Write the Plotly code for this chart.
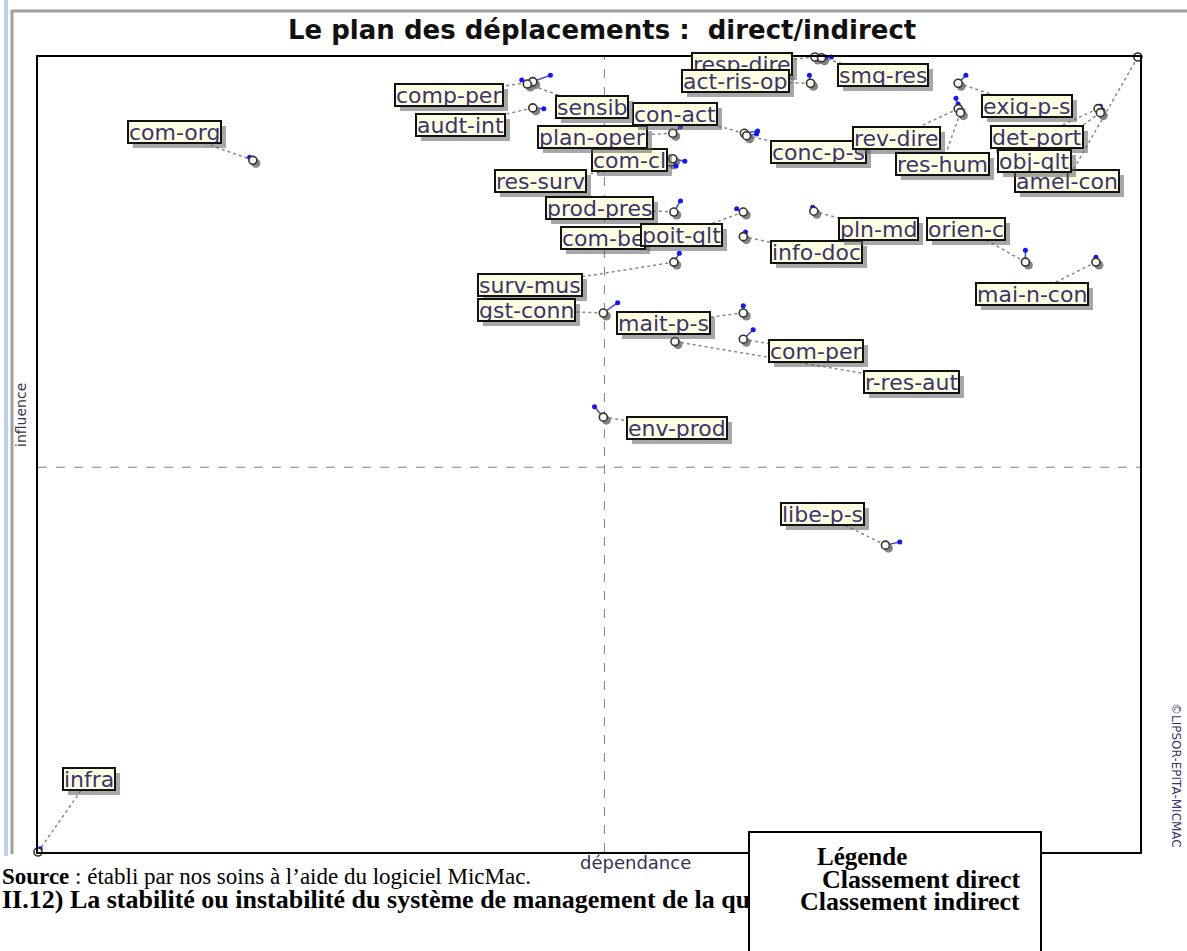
import plotly.graph_objects as go

# ---------------- data (dependence / influence, 0-1000 scale) ----------------
variables = ["infra", "com-org", "res-surv", "com-cl", "plan-oper", "audt-int",
             "comp-per", "con-act", "sensib", "resp-dire", "act-ris-op", "smq-res",
             "exig-p-s", "conc-p-s", "rev-dire", "res-hum", "amel-con", "det-port",
             "obj-qlt", "prod-pres", "com-be", "poit-qlt", "info-doc", "pln-md",
             "orien-c", "mai-n-con", "surv-mus", "gst-conn", "mait-p-s", "com-per",
             "r-res-aut", "env-prod", "libe-p-s"]

# indirect classification (dependance, influence)
indirect_dep = [0, 195, 574, 576, 576, 449, 449, 641, 444, 705, 701, 711,
                835, 643, 835, 837, 998, 962, 964, 577, 576, 640, 640, 704,
                896, 960, 577, 513, 640, 640, 578, 513, 769]
indirect_inf = [0, 870, 868, 872, 904, 936, 969, 904, 966, 1000, 967, 999,
                967, 901, 935, 930, 1000, 935, 930, 805, 774, 805, 774, 806,
                742, 742, 742, 678, 678, 645, 642, 547, 386]

# direct classification (dependance, influence)
direct_dep = [2, 192, 579, 587, 583, 459, 465, 653, 439, 715, 700, 720,
              842, 652, 833, 835, 1000, 964, 966, 583, 581, 634, 642, 703,
              896, 960, 582, 526, 640, 649, 577, 505, 782]
direct_inf = [4, 874, 863, 869, 912, 935, 977, 907, 971, 1000, 977, 1000,
              977, 903, 948, 941, 1000, 938, 933, 819, 784, 809, 780, 811,
              757, 748, 753, 691, 687, 657, 644, 560, 390]

# mean values (quadrant separators)
dep_mean = 514
inf_mean = 484

# ---------------- layout config (label offsets in pixels from the point) -----
label_offsets = [(51, -73), (-78, -28), (-130, 19), (-43, 1), (-80, 4), (-72, 17),
                 (-84, 13), (-69, -19), (65, 23), (-73, 7), (-75, -2), (61, 17),
                 (69, 23), (72, 16), (-62, 29), (-18, 51), (-71, 124), (-61, 28),
                 (-66, 48), (-74, -4), (-70, 1), (-62, 23), (73, 15), (65, 18),
                 (-59, -33), (-64, 32), (-144, 23), (-77, -3), (-80, 10), (73, 12),
                 (237, 40), (74, 11), (-63, -31)]

W, H = 1187, 951
ML, MR, MT, MB = 38, 47, 57, 99
PW, PH = W - ML - MR, H - MT - MB
XR, YR = 1000.0, 1000.0
ux = XR / PW   # data units per pixel
uy = YR / PH


def pxx(px):
    return (px - ML) / PW


def pxy(py):
    return (H - MB - py) / PH


LABEL_FONT = "DejaVu Sans"
LABEL_SIZE = 22
fig = go.Figure()

# leader lines (point -> label)
lx_all, ly_all = [], []
lxs, lys = [], []
for i, (ox, oy) in enumerate(label_offsets):
    lx = indirect_dep[i] + ox * ux
    ly = indirect_inf[i] - oy * uy
    lx_all.append(lx)
    ly_all.append(ly)
    lxs += [indirect_dep[i], lx, None]
    lys += [indirect_inf[i], ly, None]
fig.add_trace(go.Scatter(x=lxs, y=lys, mode="lines",
                         line=dict(color="#8a8a8a", width=1.5, dash="dot"),
                         hoverinfo="skip", showlegend=False, cliponaxis=False))

# displacement segments direct -> indirect
sx, sy = [], []
for i in range(len(variables)):
    sx += [indirect_dep[i], direct_dep[i], None]
    sy += [indirect_inf[i], direct_inf[i], None]
fig.add_trace(go.Scatter(x=sx, y=sy, mode="lines",
                         line=dict(color="#3a4fc8", width=1.5),
                         hoverinfo="skip", showlegend=False, cliponaxis=False))

# shadows of indirect markers
fig.add_trace(go.Scatter(x=[v + 3 * ux for v in indirect_dep],
                         y=[v - 3 * uy for v in indirect_inf], mode="markers",
                         marker=dict(size=9, color="rgba(100,100,100,0.8)"),
                         hoverinfo="skip", showlegend=False, cliponaxis=False))
# direct points
fig.add_trace(go.Scatter(x=direct_dep, y=direct_inf, mode="markers",
                         marker=dict(size=5, color="#1414ff"),
                         name="Classement direct", showlegend=False, cliponaxis=False))
# indirect points
fig.add_trace(go.Scatter(x=indirect_dep, y=indirect_inf, mode="markers",
                         marker=dict(size=8, color="#fffff0",
                                     line=dict(color="#333333", width=1.6)),
                         name="Classement indirect", showlegend=False, cliponaxis=False))

# quadrant lines
fig.add_shape(type="line", x0=dep_mean, x1=dep_mean, y0=0, y1=YR, layer="below",
              line=dict(color="#808080", width=1, dash="dash"))
fig.add_shape(type="line", x0=0, x1=XR, y0=inf_mean, y1=inf_mean, layer="below",
              line=dict(color="#808080", width=1, dash="dash"))

annotations = []
# labels with shadow
for i, name in enumerate(variables):
    common = dict(x=lx_all[i], y=ly_all[i], xref="x", yref="y", text=name,
                  showarrow=False, height=20, borderpad=0, borderwidth=2,
                  xanchor="center", yanchor="middle")
    annotations.append(dict(common, xshift=5, yshift=-5,
                            font=dict(family=LABEL_FONT, size=LABEL_SIZE, color="rgba(0,0,0,0)"),
                            bgcolor="rgba(95,95,95,0.55)", bordercolor="rgba(95,95,95,0)"))
    annotations.append(dict(common,
                            font=dict(family=LABEL_FONT, size=LABEL_SIZE, color="#3a3372"),
                            bgcolor="#ffffe1", bordercolor="#111111"))

# title
annotations.append(dict(x=pxx(602), y=pxy(30), xref="paper", yref="paper",
                        text="<b>Le plan des déplacements :  direct/indirect</b>",
                        showarrow=False, xanchor="center", yanchor="middle",
                        font=dict(family="DejaVu Sans", size=26, color="#111111")))
# axis titles
annotations.append(dict(x=pxx(636), y=pxy(862), xref="paper", yref="paper",
                        text="dépendance", showarrow=False, xanchor="center",
                        yanchor="middle",
                        font=dict(family="DejaVu Sans", size=18, color="#33334d")))
annotations.append(dict(x=pxx(21), y=pxy(415), xref="paper", yref="paper",
                        text="influence", showarrow=False, textangle=-90,
                        xanchor="center", yanchor="middle",
                        font=dict(family="DejaVu Sans", size=14, color="#33334d")))
annotations.append(dict(x=pxx(1176), y=pxy(775), xref="paper", yref="paper",
                        text="©LIPSOR-EPITA-MICMAC", showarrow=False, textangle=90,
                        xanchor="center", yanchor="middle",
                        font=dict(family="DejaVu Sans", size=12, color="#3a3372")))
# text below the chart
annotations.append(dict(x=pxx(0), y=pxy(876), xref="paper", yref="paper",
                        text="<b>Source</b> : établi par nos soins à l’aide du logiciel MicMac.",
                        showarrow=False, xanchor="left", yanchor="middle",
                        font=dict(family="Liberation Serif", size=23, color="#000000")))
annotations.append(dict(x=pxx(0), y=pxy(899), xref="paper", yref="paper",
                        text="<b>II.12) La stabilité ou instabilité du système de management de la qualité</b>",
                        showarrow=False, xanchor="left", yanchor="middle",
                        font=dict(family="Liberation Serif", size=26, color="#000000")))
# legend box (covers text beneath it)
annotations.append(dict(x=pxx(895), y=pxy(897), xref="paper", yref="paper",
                        text=" ", showarrow=False, xanchor="center", yanchor="middle",
                        width=290, height=128, borderpad=0, borderwidth=2,
                        bgcolor="#ffffff", bordercolor="#000000",
                        font=dict(size=10)))
annotations.append(dict(x=pxx(862), y=pxy(856), xref="paper", yref="paper",
                        text="<b>Légende</b>", showarrow=False, xanchor="center",
                        yanchor="middle",
                        font=dict(family="Liberation Serif", size=25, color="#000000")))
annotations.append(dict(x=pxx(1022), y=pxy(879), xref="paper", yref="paper",
                        text="<b>Classement direct</b>", showarrow=False, xanchor="right",
                        yanchor="middle",
                        font=dict(family="Liberation Serif", size=26, color="#000000")))
annotations.append(dict(x=pxx(1022), y=pxy(901), xref="paper", yref="paper",
                        text="<b>Classement indirect</b>", showarrow=False, xanchor="right",
                        yanchor="middle",
                        font=dict(family="Liberation Serif", size=26, color="#000000")))

# window frame decorations
shapes = [
    dict(type="rect", xref="paper", yref="paper", x0=pxx(4), x1=pxx(8),
         y0=pxy(0), y1=pxy(856), fillcolor="#b9d1ec", line=dict(width=0)),
    dict(type="line", xref="paper", yref="paper", x0=pxx(12), x1=pxx(12),
         y0=pxy(10), y1=pxy(854), line=dict(color="#a0a0a0", width=3)),
    dict(type="line", xref="paper", yref="paper", x0=pxx(12), x1=pxx(1187),
         y0=pxy(11), y1=pxy(11), line=dict(color="#a0a0a0", width=3)),
]
for s in shapes:
    fig.add_shape(**s)

axis_common = dict(showgrid=False, zeroline=False, showticklabels=False, ticks="",
                   showline=True, mirror=True, linecolor="#000000", linewidth=2)
fig.update_layout(
    width=W, height=H,
    margin=dict(l=ML, r=MR, t=MT, b=MB),
    paper_bgcolor="#ffffff", plot_bgcolor="#ffffff",
    xaxis=dict(range=[0, XR], **axis_common),
    yaxis=dict(range=[0, YR], **axis_common),
    annotations=annotations,
    showlegend=False,
)

fig.write_html("out.html", config={"displayModeBar": False},
               post_script="document.body.style.margin='0px';document.body.style.padding='0px';")
